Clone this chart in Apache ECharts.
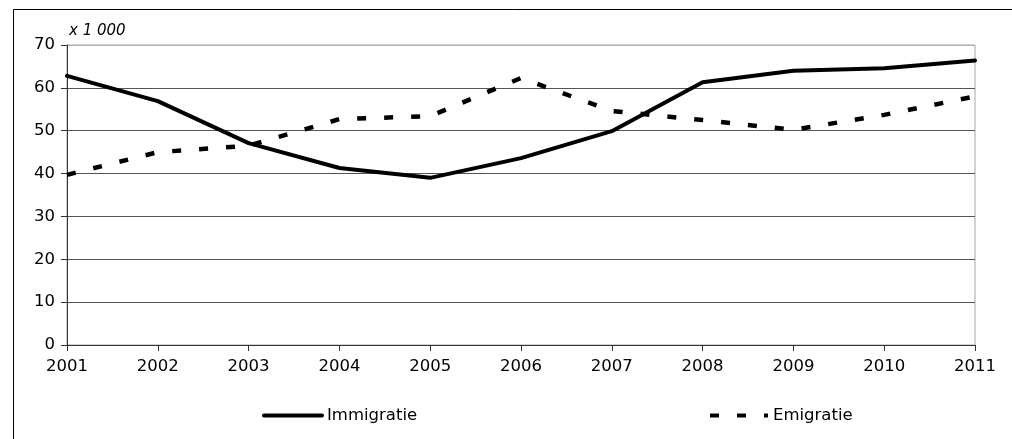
<!DOCTYPE html>
<html>
<head>
<meta charset="utf-8">
<script src="https://cdn.jsdelivr.net/npm/echarts@6/dist/echarts.min.js"></script>
<style>
html,body{margin:0;padding:0;background:#fff;}
#chart{width:1012px;height:439px;}
</style>
</head>
<body>
<div id="chart"></div>
<script>
const years = ['2001','2002','2003','2004','2005','2006','2007','2008','2009','2010','2011'];
const immigratie = [62.8, 56.9, 47.1, 41.3, 39.0, 43.6, 49.9, 61.3, 64.0, 64.6, 66.4];
const emigratie = [39.7, 45.0, 46.5, 52.7, 53.4, 62.3, 54.6, 52.5, 50.2, 53.7, 58.0];
const unitLabel = 'x 1 000';

const font = '"DejaVu Sans", sans-serif';
const chart = echarts.init(document.getElementById('chart'), null, {renderer: 'canvas'});
chart.setOption({
  animation: false,
  backgroundColor: '#fff',
  graphic: [{
    type: 'rect', left: 11, top: 7, silent: true,
    shape: {x: 0, y: 0, width: 1010, height: 440},
    style: {fill: 'none', stroke: '#000', lineWidth: 1}
  }],
  grid: {left: 67, right: 37, top: 45, bottom: 94, show: true, borderColor: '#a6a6a6', borderWidth: 1, backgroundColor: 'transparent'},
  legend: [{
    left: 257, top: 402, itemWidth: 58, itemHeight: 18, itemGap: 5,
    data: ['Immigratie'],
    itemStyle: {opacity: 0},
    lineStyle: {width: 4, color: '#000', cap: 'round'},
    textStyle: {fontFamily: font, fontSize: 16.5, color: '#000'},
    selectedMode: false
  }, {
    left: 703, top: 402, itemWidth: 58, itemHeight: 18,
    data: ['Emigratie'],
    itemStyle: {opacity: 0},
    lineStyle: {width: 4, color: '#000', type: [9, 18]},
    textStyle: {fontFamily: font, fontSize: 16.5, color: '#000'},
    selectedMode: false
  }],
  xAxis: {
    type: 'category', data: years, boundaryGap: false,
    axisLine: {lineStyle: {color: '#333', width: 1}},
    axisTick: {show: true, length: 6, lineStyle: {color: '#333'}, alignWithLabel: true},
    axisLabel: {fontFamily: font, fontSize: 16.5, color: '#000', margin: 13, interval: 0},
    splitLine: {show: false}
  },
  yAxis: {
    type: 'value', min: 0, max: 70, interval: 10,
    name: unitLabel, nameLocation: 'end', nameGap: 6,
    nameTextStyle: {fontFamily: font, fontSize: 15, fontStyle: 'italic', color: '#000', align: 'left', padding: [0,0,0,2]},
    axisLine: {show: true, lineStyle: {color: '#333', width: 1}},
    axisTick: {show: true, length: 6, lineStyle: {color: '#333'}},
    axisLabel: {fontFamily: font, fontSize: 16.5, color: '#000', margin: 12},
    splitLine: {show: true, lineStyle: {color: ['#555','#555','#555','#555','#555','#555','#555','#b0b0b0'], width: 1}}
  },
  series: [{
    name: 'Immigratie', type: 'line', data: immigratie,
    symbol: 'none', smooth: false,
    lineStyle: {color: '#000', width: 4, cap: 'round', join: 'round'},
    itemStyle: {color: '#000'}
  }, {
    name: 'Emigratie', type: 'line', data: emigratie,
    symbol: 'none', smooth: false,
    lineStyle: {color: '#000', width: 4.5, type: [9, 18], cap: 'butt', join: 'round'},
    itemStyle: {color: '#000'}
  }]
});
</script>
</body>
</html>
